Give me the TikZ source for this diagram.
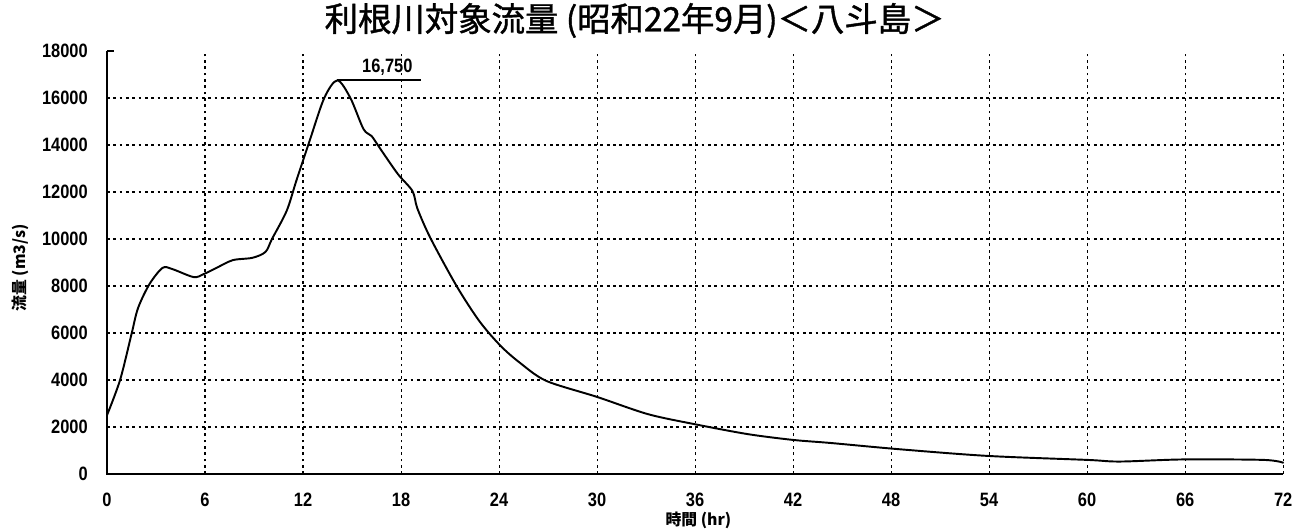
\documentclass[tikz,border=0pt]{standalone}
\usepackage{fontspec}
\setmainfont{Liberation Sans}
\newfontfamily\jpfont{Noto Sans CJK JP}
\newfontfamily\jptitfont[FakeBold=1.2]{Noto Sans CJK JP}
\newfontfamily\numfont[FakeStretch=0.85]{Liberation Sans}

\begin{document}
\begin{tikzpicture}[x=0.3267cm, y=0.47cm,
    grade/.style={line width=0.6pt, dash pattern=on 1.6pt off 2pt},
    curva/.style={line width=1.1pt, line join=round, line cap=round},
    rotulo/.style={font=\numfont\bfseries\fontsize{11}{13}\selectfont, inner sep=0pt},
    titjp/.style={font=\jpfont\bfseries\fontsize{9}{10}\selectfont, inner sep=0pt}]
  % --- parâmetros do gráfico ---
  \def\tmax{72}  % horas
  \def\qmax{18}  % 1000 m3/s

  \useasboundingbox (-6.55,-2.34) rectangle (72.91,20.17);

  % grade tracejada
  \foreach \q in {2,4,...,16} \draw[grade] (0,\q) -- (\tmax,\q);
  \foreach \t in {6,12,...,72} \draw[grade] (\t,0) -- (\t,\qmax);

  % eixos
  \draw[line width=1pt] (0,\qmax) -- (0,0) -- (\tmax,0);
  \draw[line width=0.8pt] (0,\qmax) -- (0.4,\qmax);

  % rótulos dos eixos
  \foreach \q in {0,2,...,18}
    \node[rotulo, anchor=east] (y\q) at (-1.16,\q) {\the\numexpr\q*1000\relax};
  \foreach \t in {0,6,...,72}
    \node[rotulo] (x\t) at (\t,-1.1) {\t};

  \node[titjp, rotate=90] (ytit) at (-5.33,8.77) {流量 (m3/s)};
  \node[titjp] (xtit) at (36.2,-1.96) {時間 (hr)};

  % título
  \node[font=\jptitfont\fontsize{19}{22}\selectfont, inner sep=0pt] (titulo)
    at (32.3,19.3) {利根川対象流量 (昭和22年9月)＜八斗島＞};

  % hidrograma
  \draw[curva] plot[smooth, tension=0.5] coordinates {
    (0,2.5) (0.8,4.0) (1.5,5.95) (1.9,7.06) (2.6,8.08) (3.4,8.77) (4.0,8.72)
    (5.3,8.38) (5.9,8.5) (6.7,8.77) (7.7,9.1) (8.9,9.2) (9.7,9.45) (10.1,10.0)
    (11.0,11.2) (11.6,12.5) (12.4,14.17) (13.3,16.0) (14.1,16.75) (14.9,16.0)
    (15.7,14.68) (16.2,14.38) (16.7,13.87) (17.8,12.77) (18.7,12.04) (19.0,11.3)
    (19.8,10.04) (21.4,8.0) (22.8,6.5) (24.1,5.45) (25.3,4.72) (26.9,3.96)
    (30,3.28) (33.1,2.55) (35.9,2.13) (39.2,1.70) (42,1.45) (44.3,1.32)
    (48.4,1.06) (53.9,0.77) (60,0.6) (62,0.53) (65.9,0.62) (70.8,0.6) (72,0.48)};

  % pico
  \coordinate (pico) at (14.1,16.75);
  \coordinate (pico2) at (19.2,16.75);
  \draw[line width=1pt] (pico) -- (pico2)
    node[rotulo, above=2pt, pos=0.6] (vpico) {16,750};
\end{tikzpicture}
\end{document}
